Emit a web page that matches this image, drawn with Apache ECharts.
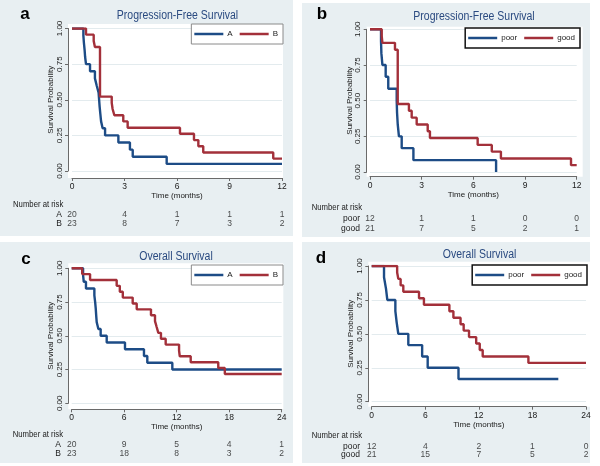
<!DOCTYPE html>
<html><head><meta charset="utf-8">
<script src="https://cdn.jsdelivr.net/npm/echarts@6/dist/echarts.min.js"></script>
<style>html,body{margin:0;padding:0;background:#fff}#c{width:600px;height:466px}</style>
</head><body><div id="c"></div>
<script>
// ---- Data ----
// Panel a: Progression-Free Survival, groups A / B
const pfsTimeA = [0,0.65,0.68,0.72,0.75,0.80,1.03,1.31,1.41,1.52,1.55,1.58,1.62,1.66,1.75,1.89,2.65,3.31,3.47,5.41,12];
const pfsSurvA = [1,0.95,0.90,0.85,0.80,0.75,0.70,0.65,0.60,0.55,0.50,0.45,0.40,0.35,0.30,0.25,0.20,0.15,0.10,0.05,0.05];
const pfsTimeB = [0,0.80,1.24,1.31,1.60,2.27,2.32,2.42,2.93,3.18,6.17,6.97,7.22,7.50,11.5,12];
const pfsSurvB = [1,0.957,0.913,0.870,0.522,0.478,0.435,0.391,0.348,0.304,0.261,0.217,0.174,0.130,0.087,0.087];
// Panel b: Progression-Free Survival, poor / good
const pfsTimePoor = [0,0.64,0.66,0.72,0.91,1.06,1.55,1.57,1.61,1.68,1.84,2.52,7.32];
const pfsSurvPoor = [1,0.917,0.833,0.75,0.667,0.583,0.5,0.417,0.333,0.25,0.167,0.083,0];
const pfsTimeGood = [0,0.68,0.72,1.45,1.61,2.26,2.42,2.71,3.35,3.48,6.25,7.07,7.60,11.67,12];
const pfsSurvGood = [1,0.952,0.905,0.857,0.476,0.429,0.381,0.333,0.286,0.238,0.190,0.143,0.095,0.048,0.048];
// Panel c: Overall Survival, A / B
const osTimeA = [0,1.3,1.38,1.63,2.59,2.68,2.75,2.80,2.86,3.05,3.31,4.0,6.09,8.26,8.64,11.5,24];
const osSurvA = [1,0.95,0.90,0.85,0.80,0.75,0.70,0.65,0.60,0.55,0.50,0.45,0.40,0.35,0.30,0.25,0.25];
const osTimeB = [0,1.2,2.1,5.14,5.5,5.84,6.97,7.43,9.06,9.52,9.71,9.9,10.2,10.74,12.27,12.35,13.6,16.75,17.5,24];
const osSurvB = [1,0.957,0.913,0.870,0.826,0.783,0.739,0.696,0.652,0.609,0.565,0.522,0.478,0.435,0.391,0.348,0.304,0.261,0.217,0.217];
// Panel d: Overall Survival, poor / good
const osTimePoor = [0,1.38,1.6,1.75,2.65,2.8,2.98,4.1,5.65,6.27,9.72,20.9];
const osSurvPoor = [1,0.917,0.833,0.75,0.667,0.583,0.5,0.417,0.333,0.25,0.167,0.167];
const osTimeGood = [0,2.85,2.98,3.24,3.54,5.3,5.85,8.7,9.15,9.95,10.3,10.9,11.7,12.1,12.43,17.55,24];
const osSurvGood = [1,0.952,0.905,0.857,0.810,0.762,0.714,0.667,0.619,0.571,0.524,0.476,0.429,0.381,0.333,0.286,0.286];
// Number at risk
const riskTimesPFS = [0,3,6,9,12];
const riskPfsA = [20,4,1,1,1];
const riskPfsB = [23,8,7,3,2];
const riskPfsPoor = [12,1,1,0,0];
const riskPfsGood = [21,7,5,2,1];
const riskTimesOS = [0,6,12,18,24];
const riskOsA = [20,9,5,4,1];
const riskOsB = [23,18,8,3,2];
const riskOsPoor = [12,4,2,1,0];
const riskOsGood = [21,15,7,5,2];
// Labels
const panelLetters = ['a','b','c','d'];
const panelTitles = ['Progression-Free Survival','Progression-Free Survival','Overall Survival','Overall Survival'];
const groupNamesAB = ['A','B'];
const groupNamesPG = ['poor','good'];
const yTickValues = [0,0.25,0.5,0.75,1];
const xAxisTitle = 'Time (months)';
const yAxisTitle = 'Survival Probability';
const riskTitle = 'Number at risk';

// ---- Styling / layout ----
const FONT = "'Liberation Sans',Arial,sans-serif";
const BLUE = '#1d4c86', RED = '#a3303a';
const BG = '#e8eff2', GRIDC = '#e3ebee', AXC = '#6a6a6a', TXT = '#1a1a1a', TITLEC = '#2a4a80';

const panels = [
  {names:groupNamesAB, t:[pfsTimeA,pfsTimeB], s:[pfsSurvA,pfsSurvB], rt:riskTimesPFS, r:[riskPfsA,riskPfsB], xmax:12, xint:3,
   bg:[0,0,293,236], plot:[68,24,215,154], grid:{left:72,top:28.5,width:210,height:142.5}, xoff:7, yoff:4,
   title:[177.5,16], letter:[25,14], nar:[13,205], risk:{top:210,height:18}, rmargin:10, nameGapX:10.5,
   legend:{right:317,top:24}, legBorder:'#8a8a8a', legBW:1},
  {names:groupNamesPG, t:[pfsTimePoor,pfsTimeGood], s:[pfsSurvPoor,pfsSurvGood], rt:riskTimesPFS, r:[riskPfsPoor,riskPfsGood], xmax:12, xint:3,
   bg:[302,3,288,234], plot:[366.7,26.7,216,150], grid:{left:370,top:29.3,width:206.7,height:142.7}, xoff:4.7, yoff:3.3,
   title:[474,17], letter:[322,14], nar:[311.7,208], risk:{top:213.5,height:20}, rmargin:10, nameGapX:11.8,
   legend:{right:20,top:28}, legBorder:'#111', legBW:1.5},
  {names:groupNamesAB, t:[osTimeA,osTimeB], s:[osSurvA,osSurvB], rt:riskTimesOS, r:[riskOsA,riskOsB], xmax:24, xint:6,
   bg:[0,242,293,221], plot:[68.3,263.3,215,146], grid:{left:71.7,top:268.3,width:210,height:135}, xoff:6, yoff:3.4,
   title:[176,256.5], letter:[26,259], nar:[12.7,435], risk:{top:439.5,height:19.4}, rmargin:10.7, nameGapX:10.2,
   legend:{right:317,top:265}, legBorder:'#8a8a8a', legBW:1},
  {names:groupNamesPG, t:[osTimePoor,osTimeGood], s:[osSurvPoor,osSurvGood], rt:riskTimesOS, r:[riskOsPoor,riskOsGood], xmax:24, xint:6,
   bg:[302,242,288,221], plot:[368.3,261.7,221.7,145], grid:{left:371.7,top:266,width:214.3,height:135.7}, xoff:5, yoff:3.4,
   title:[479.6,254.5], letter:[321,258], nar:[311.7,435.7], risk:{top:442.3,height:16.6}, rmargin:11.7, nameGapX:11.5,
   legend:{right:13,top:265}, legBorder:'#111', legBW:1.5}
];

const grids = [], xAxes = [], yAxes = [], series = [], legends = [], graphics = [];
const textStyle = (size, color) => ({fontSize:size, color:color||TXT, fontFamily:FONT});

panels.forEach((p, i) => {
  const gMain = 2*i, gRisk = 2*i+1;
  grids.push(Object.assign({}, p.grid));
  grids.push({left:p.grid.left, width:p.grid.width, top:p.risk.top, height:p.risk.height});
  xAxes.push({gridIndex:gMain, type:'value', min:0, max:p.xmax, interval:p.xint, offset:p.xoff,
    axisLine:{show:true, onZero:false, lineStyle:{color:AXC, width:1}},
    axisTick:{show:true, length:3, lineStyle:{color:AXC}},
    axisLabel:Object.assign({margin:4}, textStyle(8.5)),
    splitLine:{show:false},
    name:xAxisTitle, nameLocation:'middle', nameGap:p.nameGapX, nameTextStyle:textStyle(8)});
  xAxes.push({gridIndex:gRisk, type:'value', min:0, max:p.xmax, show:false});
  yAxes.push({gridIndex:gMain, type:'value', min:yTickValues[0], max:yTickValues[yTickValues.length-1], interval:0.25, offset:p.yoff,
    axisLine:{show:true, onZero:false, lineStyle:{color:AXC, width:1}},
    axisTick:{show:true, length:3, lineStyle:{color:AXC}},
    axisLabel:Object.assign({margin:4.5, rotate:90, formatter:v=>v.toFixed(2)}, textStyle(8)),
    splitLine:{show:true, lineStyle:{color:GRIDC, width:1}},
    name:yAxisTitle, nameLocation:'middle', nameGap:12.5, nameRotate:90, nameTextStyle:textStyle(8)});
  yAxes.push({gridIndex:gRisk, type:'category', data:p.names, inverse:true,
    axisLine:{show:false}, axisTick:{show:false}, splitLine:{show:false},
    axisLabel:Object.assign({margin:p.rmargin, interval:0}, textStyle(8.5))});
  p.names.forEach((nm, k) => {
    series.push({type:'line', name:nm, xAxisIndex:gMain, yAxisIndex:gMain, step:'end', symbol:'none',
      color:k===0?BLUE:RED, lineStyle:{width:2.4, color:k===0?BLUE:RED}, silent:true, animation:false,
      data:p.t[k].map((tt, j) => [tt, p.s[k][j]])});
    series.push({type:'scatter', xAxisIndex:gRisk, yAxisIndex:gRisk, symbolSize:1, silent:true, animation:false,
      itemStyle:{color:'rgba(0,0,0,0)'},
      label:Object.assign({show:true, position:'inside', formatter:q=>String(q.value[2])}, textStyle(8.5)),
      data:p.rt.map((tt, j) => [tt, nm, p.r[k][j]])});
  });
  legends.push(Object.assign({data:p.names, orient:'horizontal', icon:'rect', itemWidth:29, itemHeight:2.5, itemGap:7,
    padding:[6,5,6,3], backgroundColor:'#fff', borderColor:p.legBorder, borderWidth:p.legBW, borderRadius:0,
    selectedMode:false, textStyle:Object.assign({padding:[0,0,0,-1]}, textStyle(8))}, p.legend));
  graphics.push({type:'rect', z:-100, silent:true, shape:{x:p.bg[0], y:p.bg[1], width:p.bg[2], height:p.bg[3]}, style:{fill:BG}});
  graphics.push({type:'rect', z:-90, silent:true, shape:{x:p.plot[0], y:p.plot[1], width:p.plot[2], height:p.plot[3]}, style:{fill:'#fff'}});
  graphics.push({type:'text', x:p.letter[0], y:p.letter[1], silent:true,
    style:{text:panelLetters[i], fill:'#000', font:"bold 17px 'Liberation Sans',Arial,sans-serif", textAlign:'center', textVerticalAlign:'middle', align:'center', verticalAlign:'middle'}});
  graphics.push({type:'text', x:p.title[0], y:p.title[1], scaleX:0.84, silent:true,
    style:{text:panelTitles[i], fill:TITLEC, font:"12.5px " + FONT, textAlign:'center', textVerticalAlign:'middle', align:'center', verticalAlign:'middle'}});
  graphics.push({type:'text', x:p.nar[0], y:p.nar[1], scaleX:0.86, silent:true,
    style:{text:riskTitle, fill:TXT, font:"9px " + FONT, textAlign:'left', textVerticalAlign:'middle', align:'left', verticalAlign:'middle'}});
});

const chart = echarts.init(document.getElementById('c'), null, {renderer:'canvas'});
chart.setOption({
  backgroundColor:'#fff', animation:false,
  grid:grids, xAxis:xAxes, yAxis:yAxes, series:series, legend:legends, graphic:{elements:graphics}
});
</script>
</body></html>
